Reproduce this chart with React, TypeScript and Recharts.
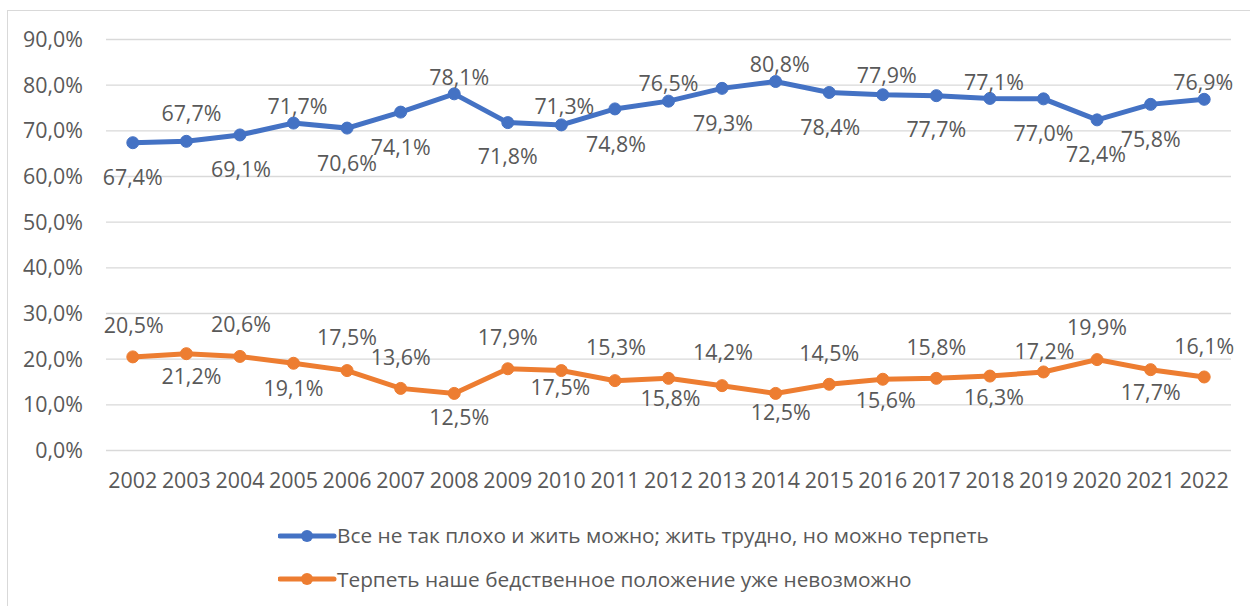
import React from 'react';
import { LineChart, Line, XAxis, YAxis, CartesianGrid, Legend, LabelList } from 'recharts';

const years = [
  '2002', '2003', '2004', '2005', '2006', '2007', '2008', '2009', '2010', '2011', '2012',
  '2013', '2014', '2015', '2016', '2017', '2018', '2019', '2020', '2021', '2022',
];
const bearable = [
  67.4, 67.7, 69.1, 71.7, 70.6, 74.1, 78.1, 71.8, 71.3, 74.8, 76.5,
  79.3, 80.8, 78.4, 77.9, 77.7, 77.1, 77.0, 72.4, 75.8, 76.9,
];
const unbearable = [
  20.5, 21.2, 20.6, 19.1, 17.5, 13.6, 12.5, 17.9, 17.5, 15.3, 15.8,
  14.2, 12.5, 14.5, 15.6, 15.8, 16.3, 17.2, 19.9, 17.7, 16.1,
];
const yTicks = [0, 10, 20, 30, 40, 50, 60, 70, 80, 90];
const seriesNames = [
  'Все не так плохо и жить можно; жить трудно, но можно терпеть',
  'Терпеть наше бедственное положение уже невозможно',
];

// label placement (dx, dy from the point), as the labels sit in the picture
const blueLabelPos = [
  [0, 35], [5, -28], [1, 34], [4, -17], [0, 35], [0, 35], [5, -17], [0, 34], [3, -19], [1, 35], [0, -18],
  [1, 35], [4, -17], [1, 35], [4, -19], [0, 34], [4, -16], [0, 34], [-1, 34], [0, 35], [-1, -17],
];
const orangeLabelPos = [
  [1, -32], [5, 23], [1, -32], [0, 25], [0, -33], [0, -31], [5, 24], [0, -31], [-1, 17], [1, -33], [2, 20],
  [1, -33], [5, 19], [0, -31], [3, 21], [0, -31], [4, 21], [1, -21], [0, -32], [0, 23], [0, -31],
];

const BLUE = '#4472C4';
const ORANGE = '#ED7D31';
const TEXT = '#595959';
const FONT = '"Open Sans", sans-serif';
const FS = 21.4;

const data = years.map((year, i) => ({ year, bearable: bearable[i], unbearable: unbearable[i] }));

const fmt = (v: number) => `${v.toFixed(1).replace('.', ',')}%`;

const makeLabel = (pos: number[][]) => (props: any) => {
  const { x, y, value, index } = props;
  const [dx, dy] = pos[index] || [0, -20];
  return (
    <text x={x + dx} y={y + dy} dy="0.36em" textAnchor="middle" fill={TEXT} fontSize={FS} fontFamily={FONT}>
      {fmt(value)}
    </text>
  );
};

const LegendBox = () => {
  const colors = [BLUE, ORANGE];
  return (
    <div style={{ fontFamily: FONT, fontSize: 20.8, color: TEXT }}>
      {seriesNames.map((name, i) => (
        <div key={name} style={{ display: 'flex', alignItems: 'center', height: 43.5 }}>
          <svg width={59} height={16} style={{ display: 'block' }}>
            <line x1={2} y1={8} x2={56} y2={8} stroke={colors[i]} strokeWidth={5} strokeLinecap="round" />
            <circle cx={29} cy={8} r={6} fill={colors[i]} />
          </svg>
          <span style={{ whiteSpace: 'nowrap', lineHeight: 1 }}>{name}</span>
        </div>
      ))}
    </div>
  );
};

export default function App() {
  return (
    <div style={{ position: 'absolute', left: 0, top: 0, width: 1250, height: 606, overflow: 'hidden', background: '#fff' }}>
      <div
        style={{
          position: 'absolute', left: 7, top: 10, width: 1300, height: 700,
          borderTop: '1.3px solid #D9D9D9', borderLeft: '1.3px solid #D9D9D9',
        }}
      />
      <div style={{ position: 'absolute', left: 0, top: 0 }}>
        <LineChart width={1250} height={606} data={data} margin={{ top: 39.5, right: 19, bottom: 125.5, left: 0 }}>
          <CartesianGrid vertical={false} stroke="#D9D9D9" strokeWidth={1.3} />
          <XAxis
            dataKey="year"
            height={30}
            axisLine={false}
            tickLine={false}
            tickSize={0}
            tickMargin={22}
            padding={{ left: 26.8, right: 26.8 }}
            interval={0}
            tick={{ fill: TEXT, fontSize: FS, fontFamily: FONT }}
          />
          <YAxis
            width={106}
            domain={[0, 90]}
            ticks={yTicks}
            axisLine={false}
            tickLine={false}
            tickSize={0}
            tickMargin={23}
            tickFormatter={fmt}
            tick={{ fill: TEXT, fontSize: FS, fontFamily: FONT }}
          />
          <Legend
            layout="vertical"
            verticalAlign="middle"
            align="center"
            wrapperStyle={{ top: 514, left: 278, width: 900 }}
            content={<LegendBox />}
          />
          <Line
            dataKey="bearable"
            name={seriesNames[0]}
            stroke={BLUE}
            strokeWidth={5}
            dot={{ r: 6, fill: BLUE, stroke: BLUE, strokeWidth: 1 }}
            isAnimationActive={false}
          >
            <LabelList dataKey="bearable" content={makeLabel(blueLabelPos)} />
          </Line>
          <Line
            dataKey="unbearable"
            name={seriesNames[1]}
            stroke={ORANGE}
            strokeWidth={5}
            dot={{ r: 6, fill: ORANGE, stroke: ORANGE, strokeWidth: 1 }}
            isAnimationActive={false}
          >
            <LabelList dataKey="unbearable" content={makeLabel(orangeLabelPos)} />
          </Line>
        </LineChart>
      </div>
    </div>
  );
}
